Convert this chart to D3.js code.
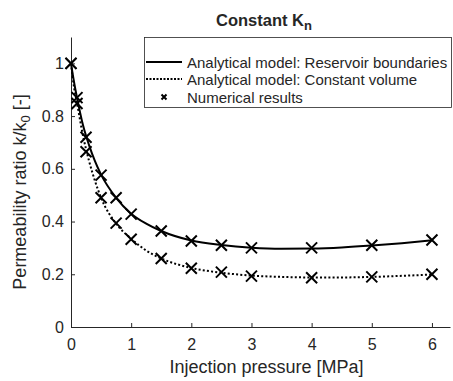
<!DOCTYPE html>
<html>
<head>
<meta charset="utf-8">
<script src="https://cdn.jsdelivr.net/npm/d3@7"></script>
<style>
  body { margin: 0; background: #fff; }
  text { font-family: "Liberation Sans", Arial, sans-serif; fill: #262626; }
</style>
</head>
<body>
<div id="chart"></div>
<script>
// analytical curves
const curveX = [0, 0.05, 0.1, 0.2, 0.3, 0.4, 0.5, 0.75, 1, 1.25, 1.5, 2, 2.5, 3, 3.5, 4, 4.5, 5, 5.5, 6];
const boundaryCurve = [1.0, 0.93, 0.87, 0.765, 0.69, 0.628, 0.578, 0.49, 0.43, 0.392, 0.364, 0.328, 0.311, 0.301, 0.297, 0.298, 0.302, 0.309, 0.318, 0.329];
const volumeCurve = [1.0, 0.91, 0.85, 0.725, 0.63, 0.553, 0.49, 0.392, 0.335, 0.29, 0.26, 0.224, 0.206, 0.195, 0.19, 0.188, 0.188, 0.19, 0.194, 0.199];

// numerical results
const numX = [0, 0.1, 0.25, 0.5, 0.75, 1, 1.5, 2, 2.5, 3, 4, 5, 6];
const numBoundary = [1.0, 0.87, 0.72, 0.576, 0.49, 0.428, 0.364, 0.326, 0.31, 0.30, 0.30, 0.31, 0.33];
const numVolume = [1.0, 0.848, 0.665, 0.49, 0.394, 0.333, 0.26, 0.223, 0.208, 0.193, 0.187, 0.19, 0.2];

const xTicks = [0, 1, 2, 3, 4, 5, 6];
const yTicks = [0, 0.2, 0.4, 0.6, 0.8, 1];
const legendLabels = ["Analytical model: Reservoir boundaries", "Analytical model: Constant volume", "Numerical results"];

const width = 453, height = 381;
const margin = {top: 37, right: 3, bottom: 54, left: 71};
const font = "Liberation Sans, Arial, sans-serif";

const svg = d3.select("#chart").append("svg")
    .attr("width", width)
    .attr("height", height);

const x = d3.scaleLinear().domain([0, 6.3]).range([margin.left, width - margin.right]);
const y = d3.scaleLinear().domain([0, 1.1]).range([height - margin.bottom, margin.top]);

// axes, ticks pointing inward
const xAxis = svg.append("g")
    .attr("transform", `translate(0,${y(0)})`)
    .call(d3.axisBottom(x).tickValues(xTicks).tickFormat(d3.format("d")).tickSizeInner(-4).tickSizeOuter(0).tickPadding(12));
const yAxis = svg.append("g")
    .attr("transform", `translate(${x(0)},0)`)
    .call(d3.axisLeft(y).tickValues(yTicks).tickFormat(d => d === 0 || d === 1 ? d : d3.format(".1f")(d)).tickSizeInner(-4).tickSizeOuter(0).tickPadding(7));

[xAxis, yAxis].forEach(a => {
    a.select(".domain").attr("stroke", "#262626").attr("stroke-width", 1);
    a.selectAll(".tick line").attr("stroke", "#262626");
    a.selectAll(".tick text").attr("font-size", 16).attr("font-family", font).attr("fill", "#262626");
});

// curves
const line = d3.line().x(d => x(d[0])).y(d => y(d[1])).curve(d3.curveMonotoneX);

svg.append("path")
    .datum(d3.zip(curveX, boundaryCurve))
    .attr("fill", "none")
    .attr("stroke", "#000")
    .attr("stroke-width", 2)
    .attr("d", line);

svg.append("path")
    .datum(d3.zip(curveX, volumeCurve))
    .attr("fill", "none")
    .attr("stroke", "#000")
    .attr("stroke-width", 2)
    .attr("stroke-dasharray", "2,2.2")
    .attr("d", line);

// x markers
function cross(g, cx, cy, r, w) {
    g.append("path")
        .attr("d", `M${cx - r},${cy - r}L${cx + r},${cy + r}M${cx - r},${cy + r}L${cx + r},${cy - r}`)
        .attr("stroke", "#000")
        .attr("stroke-width", w)
        .attr("fill", "none");
}

const marks = svg.append("g");
numX.forEach((v, i) => {
    cross(marks, x(v), y(numBoundary[i]), 5.5, 2);
    cross(marks, x(v), y(numVolume[i]), 5.5, 2);
});

// title
const title = svg.append("text")
    .attr("x", 264)
    .attr("y", 26)
    .attr("text-anchor", "middle")
    .attr("font-size", 16.5)
    .attr("font-weight", "bold");
title.append("tspan").text("Constant K");
title.append("tspan").attr("dy", 4).attr("font-size", 13).text("n");

// axis labels
svg.append("text")
    .attr("x", (x(0) + x(6.3)) / 2 + 6)
    .attr("y", 373)
    .attr("text-anchor", "middle")
    .attr("font-size", 18)
    .text("Injection pressure [MPa]");

const yl = svg.append("text")
    .attr("transform", `translate(26,${(y(0) + y(1.1)) / 2 + 10}) rotate(-90)`)
    .attr("text-anchor", "middle")
    .attr("font-size", 18);
yl.append("tspan").text("Permeability ratio k/k");
yl.append("tspan").attr("dy", 4).attr("font-size", 13).text("0");
yl.append("tspan").attr("dy", -4).text(" [-]");

// legend
const legend = svg.append("g");
legend.append("rect")
    .attr("x", 144.5).attr("y", 37.5)
    .attr("width", 307).attr("height", 70)
    .attr("fill", "#fff")
    .attr("stroke", "#262626")
    .attr("stroke-width", 0.8);

const rows = [62, 79, 97];
legend.append("line").attr("x1", 146).attr("x2", 182).attr("y1", rows[0]).attr("y2", rows[0])
    .attr("stroke", "#000").attr("stroke-width", 2);
legend.append("line").attr("x1", 146).attr("x2", 182).attr("y1", rows[1]).attr("y2", rows[1])
    .attr("stroke", "#000").attr("stroke-width", 2).attr("stroke-dasharray", "2,1.5");
cross(legend, 164, rows[2], 2.5, 2);

legendLabels.forEach((t, i) => {
    legend.append("text")
        .attr("x", 187)
        .attr("y", rows[i] + 5.5)
        .attr("font-size", 15)
        .text(t);
});
</script>
</body>
</html>
